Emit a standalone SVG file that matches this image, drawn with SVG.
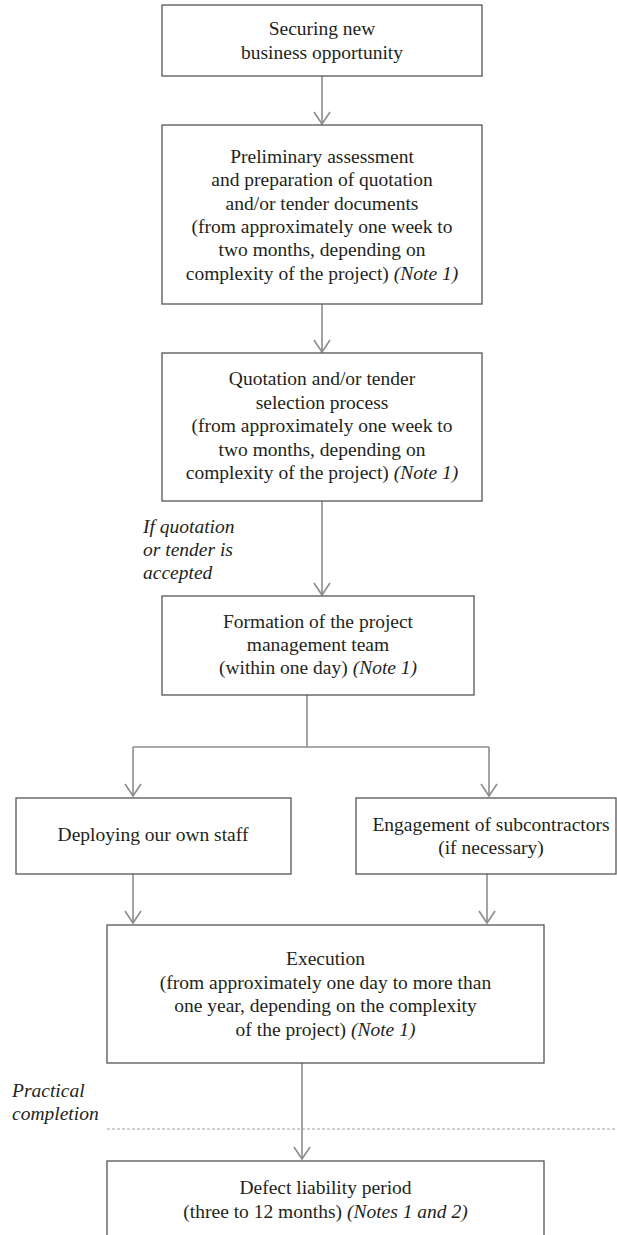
<svg xmlns="http://www.w3.org/2000/svg" width="617" height="1235" viewBox="0 0 617 1235">
<style>
.box{fill:#fff;stroke:#555;stroke-width:1.3}
.t{font-family:"Liberation Serif","Times New Roman",serif;font-size:19.5px;fill:#231f20;text-anchor:middle}
.i{font-style:italic}
.lbl{font-family:"Liberation Serif","Times New Roman",serif;font-size:19.5px;fill:#231f20;font-style:italic}
.c{fill:none;stroke:#8c8c8c;stroke-width:1.6}
.d{fill:none;stroke:#a0a0a0;stroke-width:1;stroke-dasharray:3 2}
</style>
<defs>
<marker id="arr" markerUnits="userSpaceOnUse" viewBox="-13 -9 15 18" refX="0" refY="0" markerWidth="15" markerHeight="18" orient="auto" overflow="visible">
<path d="M-12,-8 L0,0 L-12,8" fill="none" stroke="#8c8c8c" stroke-width="1.6"/>
</marker>
</defs>
<rect width="617" height="1235" fill="#fff"/>
<g id="connectors">
<line class="c" x1="322" y1="76" x2="322" y2="124" marker-end="url(#arr)"/>
<line class="c" x1="322" y1="304" x2="322" y2="352" marker-end="url(#arr)"/>
<line class="c" x1="322" y1="501" x2="322" y2="595" marker-end="url(#arr)"/>
<polyline class="c" points="307,695 307,747"/>
<line class="c" x1="133" y1="747" x2="489" y2="747"/>
<line class="c" x1="133" y1="747" x2="133" y2="796" marker-end="url(#arr)"/>
<line class="c" x1="489" y1="747" x2="489" y2="796" marker-end="url(#arr)"/>
<line class="c" x1="133" y1="874" x2="133" y2="923" marker-end="url(#arr)"/>
<line class="c" x1="487" y1="874" x2="487" y2="923" marker-end="url(#arr)"/>
<line class="c" x1="302" y1="1063" x2="302" y2="1159" marker-end="url(#arr)"/>
<line class="d" x1="107" y1="1129" x2="617" y2="1129"/>
</g>
<g id="n1">
<rect class="box" x="162" y="5" width="320" height="71"/>
<text class="t" x="322" y="35">Securing new</text>
<text class="t" x="322" y="58.5">business opportunity</text>
</g>
<g id="n2">
<rect class="box" x="162" y="125" width="320" height="179"/>
<text class="t" x="322" y="163">Preliminary assessment</text>
<text class="t" x="322" y="186.3">and preparation of quotation</text>
<text class="t" x="322" y="209.6">and/or tender documents</text>
<text class="t" x="322" y="232.9">(from approximately one week to</text>
<text class="t" x="322" y="256.2">two months, depending on</text>
<text class="t" x="322" y="279.5">complexity of the project) <tspan class="i">(Note 1)</tspan></text>
</g>
<g id="n3">
<rect class="box" x="162" y="353" width="320" height="148"/>
<text class="t" x="322" y="385">Quotation and/or tender</text>
<text class="t" x="322" y="408.5">selection process</text>
<text class="t" x="322" y="432">(from approximately one week to</text>
<text class="t" x="322" y="455.5">two months, depending on</text>
<text class="t" x="322" y="479">complexity of the project) <tspan class="i">(Note 1)</tspan></text>
</g>
<g id="lbl1">
<text class="lbl" x="143" y="533">If quotation</text>
<text class="lbl" x="143" y="556">or tender is</text>
<text class="lbl" x="143" y="579">accepted</text>
</g>
<g id="n4">
<rect class="box" x="162" y="596" width="312" height="99"/>
<text class="t" x="318" y="628">Formation of the project</text>
<text class="t" x="318" y="651">management team</text>
<text class="t" x="318" y="674">(within one day) <tspan class="i">(Note 1)</tspan></text>
</g>
<g id="n5">
<rect class="box" x="16" y="798" width="275" height="76"/>
<text class="t" x="153" y="841">Deploying our own staff</text>
</g>
<g id="n6">
<rect class="box" x="356" y="798" width="260" height="76"/>
<text class="t" x="491" y="831">Engagement of subcontractors</text>
<text class="t" x="491" y="854">(if necessary)</text>
</g>
<g id="n7">
<rect class="box" x="107" y="925" width="437" height="138"/>
<text class="t" x="325.5" y="965">Execution</text>
<text class="t" x="325.5" y="988.5">(from approximately one day to more than</text>
<text class="t" x="325.5" y="1012">one year, depending on the complexity</text>
<text class="t" x="325.5" y="1035.5">of the project) <tspan class="i">(Note 1)</tspan></text>
</g>
<g id="lbl2">
<text class="lbl" x="12" y="1097">Practical</text>
<text class="lbl" x="12" y="1120">completion</text>
</g>
<g id="n8">
<rect class="box" x="107" y="1161" width="437" height="100"/>
<text class="t" x="325.5" y="1194">Defect liability period</text>
<text class="t" x="325.5" y="1218">(three to 12 months) <tspan class="i">(Notes 1 and 2)</tspan></text>
</g>
</svg>
